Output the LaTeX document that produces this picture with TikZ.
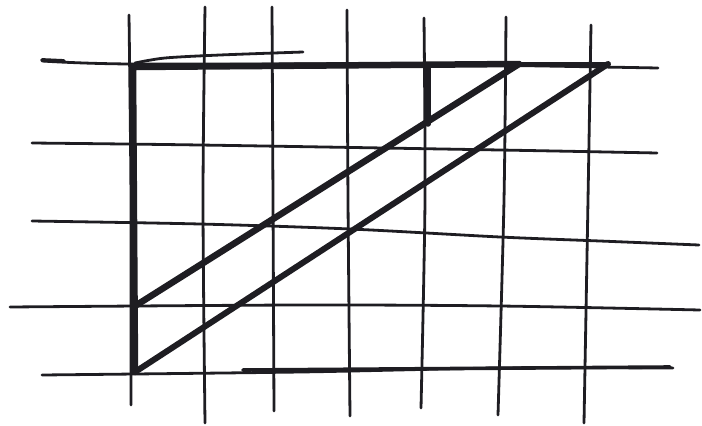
\documentclass[tikz,border=0pt]{standalone}
\usepackage{xcolor}
\usepackage{tikz}
\usetikzlibrary{calc}
\definecolor{Ink}{HTML}{1E1D22}

\begin{document}
\begin{tikzpicture}[x=1pt,y=-1pt,
pen/.style={draw=Ink,line width=2.8pt,line cap=round,line join=round},
marker/.style={draw=Ink,line width=6.5pt,line cap=round,line join=round}]
\useasboundingbox (0,0) rectangle (702,426);
% grid, vertical strokes
\draw[pen] plot[smooth] coordinates {(129,15) (131,200) (131,405)};
\draw[pen] plot[smooth] coordinates {(205,7) (203,200) (205,423)};
\draw[pen] plot[smooth] coordinates {(272,7) (273,200) (274,411)};
\draw[pen] plot[smooth] coordinates {(347,10) (348,200) (350,416)};
\draw[pen] plot[smooth] coordinates {(424,18) (425,200) (421,408)};
\draw[pen] plot[smooth] coordinates {(506,17) (504,200) (498,415)};
\draw[pen] plot[smooth] coordinates {(591,25) (588,200) (584,423)};
% grid, horizontal strokes
\draw[pen] plot[smooth] coordinates {(42,61) (130,64) (400,64) (658,68)};
\draw[pen] plot[smooth] coordinates {(135,63) (165,58) (220,55) (303,52)};
\draw[pen] plot[smooth] coordinates {(32,143) (200,145) (500,150) (657,153)};
\draw[pen] plot[smooth] coordinates {(32,221) (200,224) (350,229) (500,237) (600,241) (699,245)};
\draw[pen] plot[smooth] coordinates {(10,307) (300,305) (500,306) (700,310)};
\draw[pen] plot[smooth] coordinates {(42,375) (300,372) (500,368) (673,368)};
\draw[pen,line width=3.6pt] (243,370) -- (670,367);
\draw[pen,line width=3.8pt] (42,60) -- (64,61);
% the bold figure
\coordinate (tl) at (133,67);
\coordinate (tm) at (519,64);
\coordinate (tr) at (608,64);
\coordinate (ml) at (135,306);
\coordinate (bl) at (135,372);
\coordinate (tk) at (428,66);
\coordinate (tb) at (428,124);
\draw[marker] (bl) -- (tl) -- (tm) -- (ml);
\draw[marker,line width=6pt] (bl) -- (tr);
\draw[pen,line width=4pt] (tm) -- (tr);
\draw[marker,line width=5.5pt] (tk) -- (tb);
\end{tikzpicture}
\end{document}
